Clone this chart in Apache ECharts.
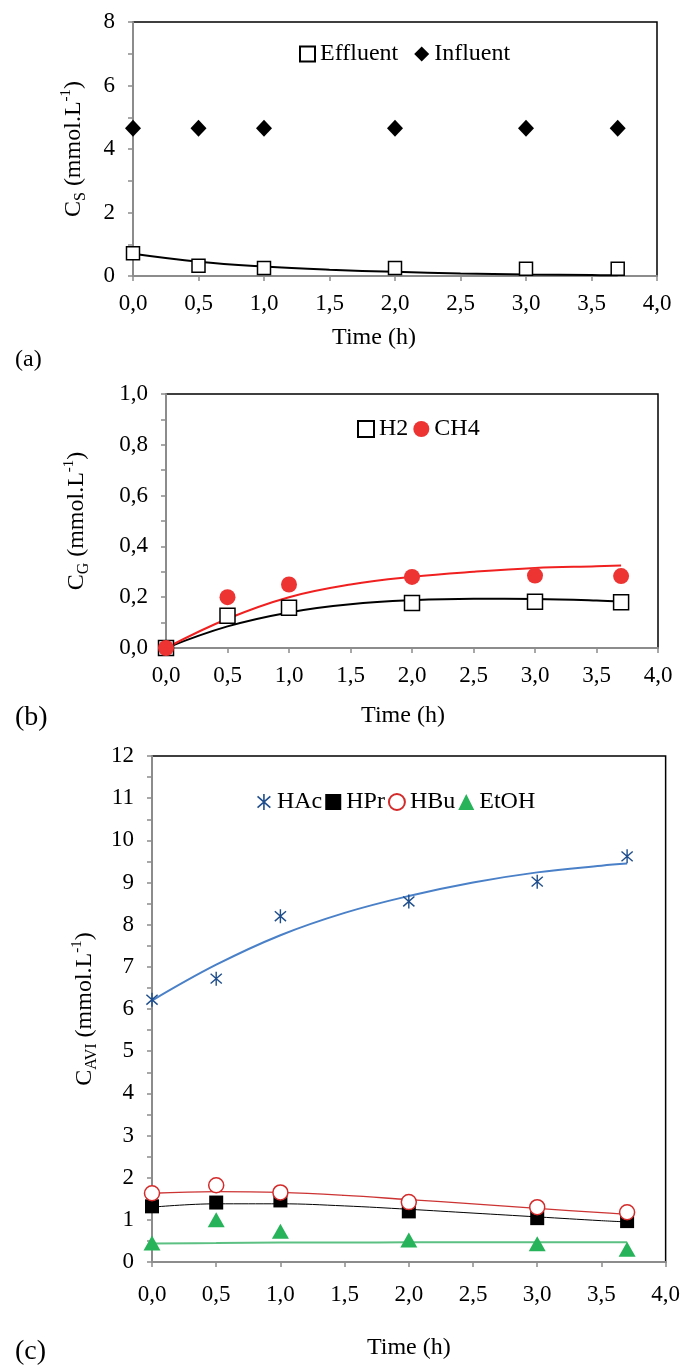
<!DOCTYPE html>
<html>
<head>
<meta charset="utf-8">
<script src="https://cdn.jsdelivr.net/npm/echarts@6/dist/echarts.min.js"></script>
<style>
  html, body { margin: 0; padding: 0; background: #fff; }
  #main { width: 683px; height: 1368px; }
</style>
</head>
<body>
<div id="main"></div>
<script>
// measured times (h)
const timePts = [0, 0.5, 1, 2, 3, 3.7];
const fitTime = [0, 0.5, 1, 1.5, 2, 2.5, 3, 3.5, 3.7];

// (a) substrate
const effluent = [0.72, 0.32, 0.25, 0.25, 0.23, 0.23];
const influent = [4.65, 4.65, 4.65, 4.65, 4.65, 4.65];
const effluentFit = [0.70, 0.45, 0.30, 0.20, 0.13, 0.08, 0.05, 0.03, 0.02];

// (b) gases
const h2 = [0.0, 0.127, 0.158, 0.177, 0.182, 0.18];
const ch4 = [0.0, 0.20, 0.25, 0.28, 0.285, 0.283];
const h2Fit = [0.0, 0.085, 0.14, 0.172, 0.188, 0.194, 0.193, 0.187, 0.182];
const ch4Fit = [0.0, 0.115, 0.20, 0.25, 0.28, 0.30, 0.315, 0.322, 0.325];

// (c) acids / ethanol
const hac = [6.22, 6.72, 8.2, 8.55, 9.02, 9.62];
const hpr = [1.32, 1.41, 1.46, 1.2, 1.04, 0.97];
const hbu = [1.63, 1.82, 1.65, 1.42, 1.3, 1.18];
const etoh = [0.45, 1.0, 0.73, 0.52, 0.43, 0.3];
const hacFit = [6.2, 7.05, 7.75, 8.28, 8.68, 9.0, 9.24, 9.4, 9.45];
const hprFit = [1.3, 1.38, 1.38, 1.33, 1.25, 1.16, 1.07, 0.98, 0.95];
const hbuFit = [1.63, 1.67, 1.65, 1.58, 1.48, 1.38, 1.27, 1.17, 1.13];
const etohFit = [0.44, 0.45, 0.46, 0.46, 0.47, 0.47, 0.47, 0.47, 0.47];

const FONT = 'Liberation Serif';
const FS = 23;
const axisGray = '#8c8c8c';
const star = 'path://M9,0L11,0L11,20L9,20Z M2.66,2.25L18.66,16.25L17.34,17.75L1.34,3.75Z M18.66,3.75L2.66,17.75L1.34,16.25L17.34,2.25Z';

function pair(xs, ys) {
  return xs.map((x, i) => [x, ys[i]]);
}
function comma(v, d) {
  return v.toFixed(d).replace('.', ',');
}

function xAxis(grid, gap, shift, margin) {
  return {
    type: 'value', gridIndex: grid, min: 0, max: 4, interval: 0.5,
    name: 'Time (h)', nameLocation: 'middle', nameGap: gap,
    nameTextStyle: { fontFamily: FONT, fontSize: 24, color: '#000', padding: [0, shift, 0, 0] },
    axisLine: { onZero: false, lineStyle: { color: axisGray, width: 2 } },
    axisTick: { show: true, length: 5, lineStyle: { color: axisGray, width: 1.5 } },
    axisLabel: { fontFamily: FONT, fontSize: FS, color: '#000', margin: margin, formatter: v => comma(v, 1) },
    splitLine: { show: false }
  };
}

function yAxis(grid, max, interval, fmt, sub, gap) {
  return {
    type: 'value', gridIndex: grid, min: 0, max: max, interval: interval,
    name: '{t|C}{s|' + sub + '}{t| (mmol.L}{p|-1}{t|)}',
    nameLocation: 'middle', nameGap: gap, nameRotate: 90,
    nameTextStyle: {
      rich: {
        t: { fontFamily: FONT, fontSize: 24, color: '#000', lineHeight: 30 },
        s: { fontFamily: FONT, fontSize: 16, color: '#000', lineHeight: 30, verticalAlign: 'bottom' },
        p: { fontFamily: FONT, fontSize: 15, color: '#000', lineHeight: 30, verticalAlign: 'top' }
      }
    },
    axisLine: { lineStyle: { color: axisGray, width: 2 } },
    axisTick: { show: true, length: 5, lineStyle: { color: axisGray, width: 1.5 } },
    axisLabel: { fontFamily: FONT, fontSize: FS, color: '#000', margin: 18, formatter: fmt },
    splitLine: { show: false }
  };
}

function fit(name, xi, ys, color, width) {
  return {
    name: name, type: 'line', xAxisIndex: xi, yAxisIndex: xi,
    data: pair(fitTime, ys), smooth: 0.4, showSymbol: false, symbol: 'none',
    lineStyle: { color: color, width: width }, z: 2, silent: true
  };
}

function pts(name, xi, ys, symbol, size, itemStyle) {
  return {
    name: name, type: 'scatter', xAxisIndex: xi, yAxisIndex: xi,
    data: pair(timePts, ys), symbol: symbol, symbolSize: size, symbolKeepAspect: true,
    itemStyle: Object.assign({ opacity: 1 }, itemStyle), clip: false, z: 5
  };
}

const legendText = { fontFamily: FONT, fontSize: 24, color: '#000' };

const chart = echarts.init(document.getElementById('main'), null, { renderer: 'canvas' });
chart.setOption({
  backgroundColor: '#fff',
  animation: false,
  grid: [
    { left: 133, top: 22, width: 524, height: 254, show: true, borderColor: '#000', borderWidth: 1.5, backgroundColor: 'transparent' },
    { left: 166, top: 394, width: 492, height: 254, show: true, borderColor: '#000', borderWidth: 1.5, backgroundColor: 'transparent' },
    { left: 152, top: 756, width: 514, height: 506, show: true, borderColor: '#000', borderWidth: 1.5, backgroundColor: 'transparent' }
  ],
  xAxis: [
    xAxis(0, 50, 42, 16),
    xAxis(1, 56, 18, 16),
    xAxis(2, 74, 0, 21)
  ],
  yAxis: [
    yAxis(0, 8, 1, v => (v % 2 === 0 ? String(v) : ''), 'S', 44),
    yAxis(1, 1, 0.1, v => (Math.round(v * 10) % 2 === 0 ? comma(v, 1) : ''), 'G', 74),
    yAxis(2, 12, 0.5, v => (Number.isInteger(v) ? String(v) : ''), 'AVI', 52)
  ],
  legend: [
    { data: ['Effluent', 'Influent'], left: 294, top: 37, itemWidth: 15, itemHeight: 15, itemGap: 16, textStyle: legendText },
    { data: ['H2', 'CH4'], left: 352, top: 412, itemWidth: 16, itemHeight: 16, itemGap: 5, textStyle: legendText },
    { data: ['HAc', 'HPr', 'HBu', 'EtOH'], left: 252, top: 785, itemWidth: 16, itemHeight: 16, itemGap: 3, textStyle: legendText }
  ],
  graphic: [
    { type: 'text', left: 15, top: 348, style: { text: '(a)', font: '24px "Liberation Serif"', fill: '#000' } },
    { type: 'text', left: 15, top: 704, style: { text: '(b)', font: '28px "Liberation Serif"', fill: '#000' } },
    { type: 'text', left: 15, top: 1338, style: { text: '(c)', font: '28px "Liberation Serif"', fill: '#000' } }
  ],
  series: [
    fit('effFit', 0, effluentFit, '#000', 2),
    pts('Effluent', 0, effluent, 'rect', 13, { color: '#fff', borderColor: '#000', borderWidth: 1.5 }),
    pts('Influent', 0, influent, 'diamond', [16, 17], { color: '#000' }),

    fit('h2Fit', 1, h2Fit, '#000', 2),
    fit('ch4Fit', 1, ch4Fit, '#f02020', 2),
    pts('H2', 1, h2, 'rect', 15, { color: '#fff', borderColor: '#000', borderWidth: 1.5 }),
    pts('CH4', 1, ch4, 'circle', 16, { color: '#ee3333' }),

    fit('hacFit', 2, hacFit, '#4a80c8', 2),
    fit('hprFit', 2, hprFit, '#000', 1),
    fit('hbuFit', 2, hbuFit, '#cc3333', 1.3),
    fit('etohFit', 2, etohFit, '#5cc083', 2),
    pts('HAc', 2, hac, star, 14, { color: '#1f4e8c' }),
    pts('HPr', 2, hpr, 'rect', 14, { color: '#000' }),
    pts('HBu', 2, hbu, 'circle', 15, { color: '#fff', borderColor: '#d42a2a', borderWidth: 1.5 }),
    pts('EtOH', 2, etoh, 'triangle', [17, 15], { color: '#27b35a' })
  ]
});
</script>
</body>
</html>
